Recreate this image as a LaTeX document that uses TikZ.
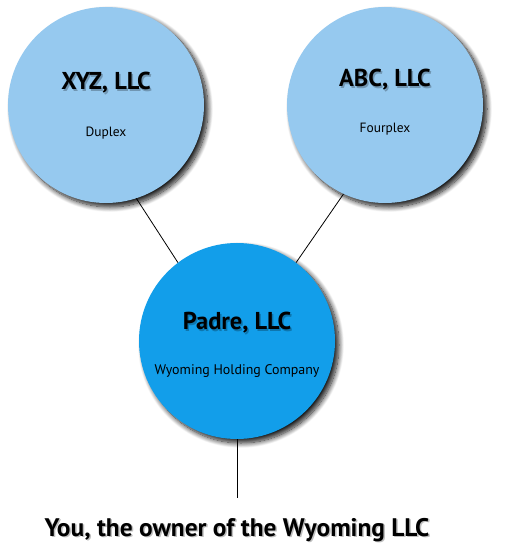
\documentclass[tikz,border=0pt]{standalone}
\usepackage{fontspec}
\setmainfont{PT Sans}
\usetikzlibrary{shadows.blur}
\definecolor{lightblue}{RGB}{150,201,239}
\definecolor{darkblue}{RGB}{18,158,234}
\tikzset{
  entity/.style={circle, minimum size=196bp, inner sep=0pt, draw=none,
    blur shadow={shadow xshift=4bp, shadow yshift=-4bp, shadow blur radius=5bp, shadow blur steps=12, shadow opacity=90}},
  link/.style={draw=black, line width=0.8bp},
  title/.style={font=\bfseries\fontsize{24.5}{28}\selectfont, inner sep=0pt},
  sub/.style={font=\fontsize{13.5}{15}\selectfont, inner sep=0pt},
  tshadow/.style={text=black, opacity=0.25}
}
\begin{document}
\begin{tikzpicture}[x=1bp, y=-1bp]
\useasboundingbox (0,0) rectangle (505,544);
\node[entity, fill=lightblue] (xyz) at (106,105) {};
\node[entity, fill=lightblue] (abc) at (385,105) {};
\node[entity, fill=darkblue] (padre) at (237,341) {};
% titles with soft shadow
\node[title, tshadow] at (107.5,84.5) {XYZ, LLC};
\node[title] (xyzt) at (106,83) {XYZ, LLC};
\node[sub] (xyzs) at (106,133) {Duplex};
\node[title, tshadow] at (386.5,81.5) {ABC, LLC};
\node[title] (abct) at (385,80) {ABC, LLC};
\node[sub] (abcs) at (385,129) {Fourplex};
\node[title, tshadow] at (238.5,324.5) {Padre, LLC};
\node[title] (padret) at (237,323) {Padre, LLC};
\node[sub, font=\fontsize{14}{16}\selectfont] (padres) at (237,371) {Wyoming Holding Company};
\coordinate (own) at (237,498);
\node[title, tshadow, anchor=base, font=\bfseries\fontsize{25.5}{28}\selectfont] at (238.5,537.5) {You, the owner of the Wyoming LLC};
\node[title, anchor=base, font=\bfseries\fontsize{25.5}{28}\selectfont] (owner) at (237,536) {You, the owner of the Wyoming LLC};
% connectors
\draw[link] (xyz.-72) -- (padre.127);
\draw[link] (abc.-115) -- (padre.53);
\draw[link] (padre.south) -- (own);
\end{tikzpicture}
\end{document}
